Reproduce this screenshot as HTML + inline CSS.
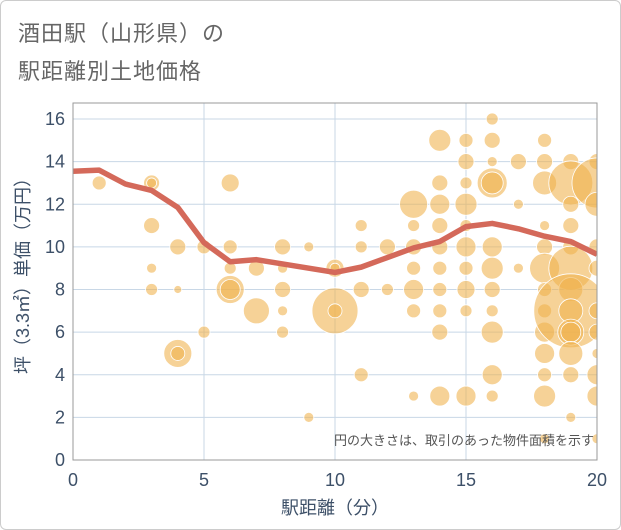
<!DOCTYPE html>
<html><head><meta charset="utf-8"><style>
body{margin:0;background:#fff;}
#wrap{position:relative;width:619px;height:528px;border:1px solid #ccc;border-radius:6px;overflow:hidden;font-family:"Liberation Sans","Noto Sans CJK JP",sans-serif;}
.title{position:absolute;left:17px;font-size:22px;color:#666;letter-spacing:1px;}
</style></head><body>
<div id="wrap">
<div class="title" style="top:15px">酒田駅（山形県）の</div>
<div class="title" style="top:53px">駅距離別土地価格</div>
<svg id="chart" width="621" height="530" style="position:absolute;left:-1px;top:-1px"></svg>
</div>
<script>
const xTicks=[0,5,10,15,20];
const yTicks=[0,2,4,6,8,10,12,14,16];
const lineX=[0,1,2,3,4,5,6,7,8,9,10,11,12,13,14,15,16,17,18,19,20];
const lineY=[13.55,13.6,12.95,12.65,11.85,10.2,9.3,9.4,9.2,9.0,8.8,9.05,9.5,9.95,10.25,10.95,11.1,10.85,10.5,10.25,9.65];
const bubX=[1,3,3,3,3,3,4,4,4,4,5,5,6,6,6,6,6,7,7,8,8,8,8,8,9,9,10,10,10,10,11,11,11,11,12,12,13,13,13,13,13,13,13,14,14,14,14,14,14,14,14,14,14,15,15,15,15,15,15,15,15,15,15,16,16,16,16,16,16,16,16,16,16,16,16,17,17,17,18,18,18,18,18,18,18,18,18,18,18,18,18,19,19,19,19,19,19,19,19,19,19,19,19,19,19,20,20,20,20,20,20,20,20,20,20,20];
const bubY=[13,13,13,11,9,8,10,8,5,5,10,6,13,10,9,8,8,9,7,10,9,8,7,6,10,2,9,9,7,7,11,10,8,4,10,8,12,11,10,9,8,7,3,15,13,12,11,10,9,8,7,6,3,15,14,13,12,11,10,9,8,7,3,16,15,14,13,13,10,9,8,7,6,4,3,14,12,9,15,14,13,11,10,9,8,7,6,5,4,3,1,14,13,12,11,10,9,8,7,7,6,6,5,4,2,14,13,12,10,9,7,6,5,4,3,1];
const bubR=[7,8,5,8,5,6,8,4,14,7,7,6,9,7,6,14,10,8,13,8,5,8,5,6,5,5,9,5,23,7,6,6,8,7,8,6,14,6,8,7,10,7,5,11,8,10,8,8,7,7,7,8,10,7,8,6,11,6,10,7,9,6,10,6,8,5,15,11,10,11,8,6,11,10,6,8,5,5,7,8,12,5,8,15,7,7,10,10,7,11,5,8,22,8,8,8,22,12,37,12,13,10,12,8,5,8,25,12,8,8,8,8,5,10,10,5];
const L=73,R=597,T=103,B=460;
const sx=v=>L+(R-L)*v/20;
const sy=v=>B-(B-119)*v/16;
const svg=document.getElementById('chart');
const NS='http://www.w3.org/2000/svg';
function mk(t,a){const e=document.createElementNS(NS,t);for(const k in a)e.setAttribute(k,a[k]);svg.appendChild(e);return e;}
const defs=mk('defs',{});
const cp=document.createElementNS(NS,'clipPath');cp.setAttribute('id','clip');
const cr=document.createElementNS(NS,'rect');cr.setAttribute('x',L);cr.setAttribute('y',T);cr.setAttribute('width',R-L);cr.setAttribute('height',B-T);
cp.appendChild(cr);defs.appendChild(cp);
yTicks.forEach(v=>{
 const g=mk('line',{x1:L,x2:R,y1:sy(v),y2:sy(v),stroke:'#c8d7e6','stroke-width':1});
 
 
 const t=mk('text',{x:L-8,y:sy(v)+6,'text-anchor':'end','font-size':18,fill:'#3d5068','font-family':'Liberation Sans, sans-serif'});
 t.textContent=v;
 
 
});
xTicks.forEach(v=>{
 const g=mk('line',{x1:sx(v),x2:sx(v),y1:T,y2:B,stroke:'#c8d7e6','stroke-width':1});
 
 
 const t=mk('text',{x:sx(v),y:B+26,'text-anchor':'middle','font-size':18,fill:'#3d5068','font-family':'Liberation Sans, sans-serif'});
 t.textContent=v;
 
 
});
const bg=mk('g',{'clip-path':'url(#clip)'});
bubX.forEach((x,i)=>{
 const c=document.createElementNS(NS,'circle');
 c.setAttribute('cx',sx(x));c.setAttribute('cy',sy(bubY[i]));c.setAttribute('r',bubR[i]);
 c.setAttribute('fill','rgba(240,178,75,0.58)');c.setAttribute('stroke','#fff');c.setAttribute('stroke-width','0.8');
 
 
 bg.appendChild(c);
});
const p=mk('polyline',{points:lineX.map((x,i)=>sx(x)+','+sy(lineY[i])).join(' '),fill:'none',stroke:'#d4695a','stroke-width':5.5,'stroke-linejoin':'round','clip-path':'url(#clip)'});


const fr=mk('rect',{x:L,y:T,width:R-L,height:B-T,fill:'none',stroke:'#999','stroke-width':1});


const note=mk('text',{x:R-3,y:445,'text-anchor':'end','font-size':13,fill:'#555','font-family':'Liberation Sans, Noto Sans CJK JP, sans-serif'});
note.textContent='円の大きさは、取引のあった物件面積を示す';


const xt=mk('text',{x:(L+R)/2,y:514,'text-anchor':'middle','font-size':18,fill:'#3d5068','font-family':'Liberation Sans, Noto Sans CJK JP, sans-serif'});
xt.textContent='駅距離（分）';


const yt=mk('text',{x:0,y:0,'text-anchor':'middle','font-size':18,fill:'#3d5068','font-family':'Liberation Sans, Noto Sans CJK JP, sans-serif',transform:'translate(29,'+((T+B)/2-10)+') rotate(-90)'});
yt.textContent='坪（3.3㎡）単価（万円）';


</script>
</body></html>
